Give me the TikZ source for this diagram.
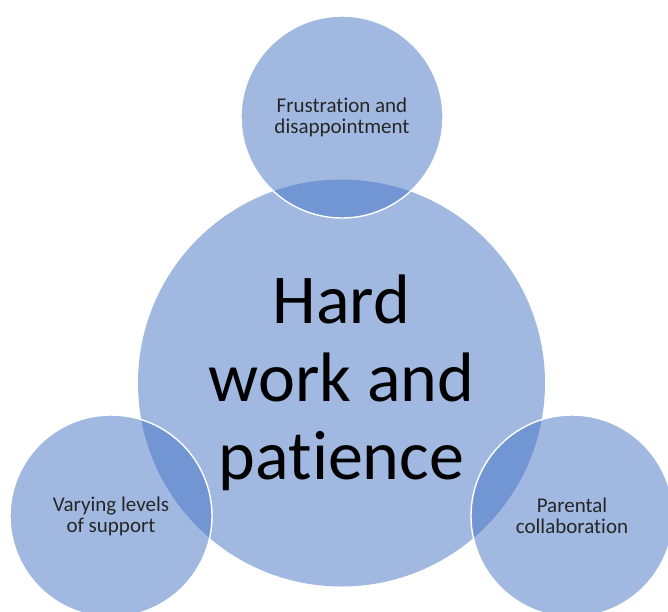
\documentclass[tikz,border=0pt]{standalone}
\usepackage{fontspec}
\setmainfont{Carlito}[Ligatures=NoCommon]
\definecolor{bubblefill}{HTML}{4472C4}
\definecolor{smalltext}{HTML}{262626}
\tikzset{
  bubble/.style={circle, fill=bubblefill, fill opacity=0.5, text opacity=1,
    inner sep=0pt, align=center},
  satellite/.style={bubble, draw=white, draw opacity=1, line width=1.4pt,
    minimum size=202pt, text=smalltext, font=\fontsize{21}{21}\selectfont},
}
\begin{document}
\begin{tikzpicture}[x=1pt, y=-1pt]
    \useasboundingbox (0,0) rectangle (668,611);
    \clip (0,0) rectangle (668,611);
    % centres of the four circles
    \coordinate (C) at (341.5, 383);
    \coordinate (T) at (342, 117);
    \def\dy{516}
    \coordinate (L) at (111, \dy);
    \coordinate (R) at (572, \dy);
    % big one first, the small ones overlap it
    \node[bubble, minimum size=407pt, font=\fontsize{70}{78}\selectfont] (hard) at (C) {Hard\\work and\\patience};
    \node[satellite] (frust) at (T) {Frustration and\\disappointment};
    \node[satellite] (support) at (L) {Varying levels\\of support};
    \node[satellite] (parent) at (R) {Parental\\collaboration};
\end{tikzpicture}
\end{document}
